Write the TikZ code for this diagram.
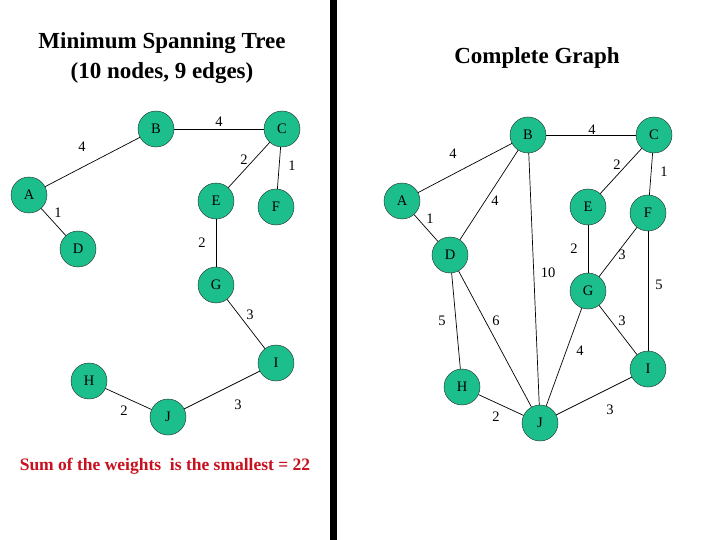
\documentclass[tikz,border=0pt]{standalone}
\usepackage{fontspec}
\setmainfont{Liberation Serif}
\definecolor{nodegreen}{RGB}{28,190,140}
\definecolor{sumred}{RGB}{200,16,30}
\begin{document}
\begin{tikzpicture}[x=1pt,y=-1pt,
  vtx/.style={circle,draw=black!85,fill=nodegreen,minimum size=36pt,inner sep=0pt,font=\fontsize{14.5}{14.5}\selectfont},
  edge/.style={draw=black,line width=0.7pt},
  wt/.style={inner sep=0pt,font=\fontsize{14.5}{14.5}\selectfont},
  ttl/.style={font=\fontsize{23}{30}\selectfont\bfseries,align=center}]
\useasboundingbox (0,0) rectangle (720,540);
\fill[white] (0,0) rectangle (720,540);
% divider
\fill[black] (330,0) rectangle (337,540);
% titles
\node[ttl] (t1) at (162,58) {Minimum Spanning Tree\\(10 nodes, 9 edges)};
\node[ttl] (t2) at (537,58) {Complete Graph};
\node[font=\fontsize{17.5}{17.5}\selectfont\bfseries,text=sumred] (sum) at (165,466) {Sum of the weights\ \ is the smallest = 22};
% left MST nodes
\node[vtx] (lA) at (29,195) {A};
\node[vtx] (lB) at (156,129) {B};
\node[vtx] (lC) at (282,129) {C};
\node[vtx] (lD) at (78,249) {D};
\node[vtx] (lE) at (216,201) {E};
\node[vtx] (lF) at (276,207) {F};
\node[vtx] (lG) at (216,285) {G};
\node[vtx] (lH) at (89,381) {H};
\node[vtx] (lI) at (276,363) {I};
\node[vtx] (lJ) at (168,417) {J};
\draw[edge] (lA) -- (lB);
\draw[edge] (lB) -- (lC);
\draw[edge] (lC) -- (lE);
\draw[edge] (lC) -- (lF);
\draw[edge] (lA) -- (lD);
\draw[edge] (lE) -- (lG);
\draw[edge] (lG) -- (lI);
\draw[edge] (lH) -- (lJ);
\draw[edge] (lJ) -- (lI);
\node[wt] (wlAB) at (82,147) {4};
\node[wt] (wlBC) at (219,122) {4};
\node[wt] (wlCE) at (244,160) {2};
\node[wt] (wlCF) at (292,166) {1};
\node[wt] (wlAD) at (58,213) {1};
\node[wt] (wlEG) at (202,243) {2};
\node[wt] (wlGI) at (250,315) {3};
\node[wt] (wlHJ) at (124,411) {2};
\node[wt] (wlJI) at (238,405) {3};
% right complete graph nodes
\node[vtx] (rA) at (402,201) {A};
\node[vtx] (rB) at (528,135) {B};
\node[vtx] (rC) at (654,135) {C};
\node[vtx] (rD) at (450,255) {D};
\node[vtx] (rE) at (588,207) {E};
\node[vtx] (rF) at (648,213) {F};
\node[vtx] (rG) at (588,291) {G};
\node[vtx] (rH) at (462,387) {H};
\node[vtx] (rI) at (648,369) {I};
\node[vtx] (rJ) at (540,423) {J};
\draw[edge] (rA) -- (rB);
\draw[edge] (rA) -- (rD);
\draw[edge] (rB) -- (rC);
\draw[edge] (rB) -- (rD);
\draw[edge] (rB) -- (rJ);
\draw[edge] (rC) -- (rE);
\draw[edge] (rC) -- (rF);
\draw[edge] (rE) -- (rG);
\draw[edge] (rF) -- (rG);
\draw[edge] (rF) -- (rI);
\draw[edge] (rD) -- (rH);
\draw[edge] (rD) -- (rJ);
\draw[edge] (rG) -- (rJ);
\draw[edge] (rG) -- (rI);
\draw[edge] (rH) -- (rJ);
\draw[edge] (rJ) -- (rI);
\node[wt] (wrAB) at (453,154) {4};
\node[wt] (wrBC) at (592,130) {4};
\node[wt] (wrBD) at (495,201) {4};
\node[wt] (wrAD) at (430,219) {1};
\node[wt] (wrCE) at (617,165) {2};
\node[wt] (wrCF) at (664,172) {1};
\node[wt] (wrEG) at (574,249) {2};
\node[wt] (wrFG) at (622,255) {3};
\node[wt] (wrBJ) at (548,273) {10};
\node[wt] (wrFI) at (659,285) {5};
\node[wt] (wrDH) at (442,321) {5};
\node[wt] (wrDJ) at (496,321) {6};
\node[wt] (wrGI) at (622,321) {3};
\node[wt] (wrGJ) at (580,351) {4};
\node[wt] (wrHJ) at (496,417) {2};
\node[wt] (wrJI) at (610,410) {3};
\end{tikzpicture}
\end{document}
